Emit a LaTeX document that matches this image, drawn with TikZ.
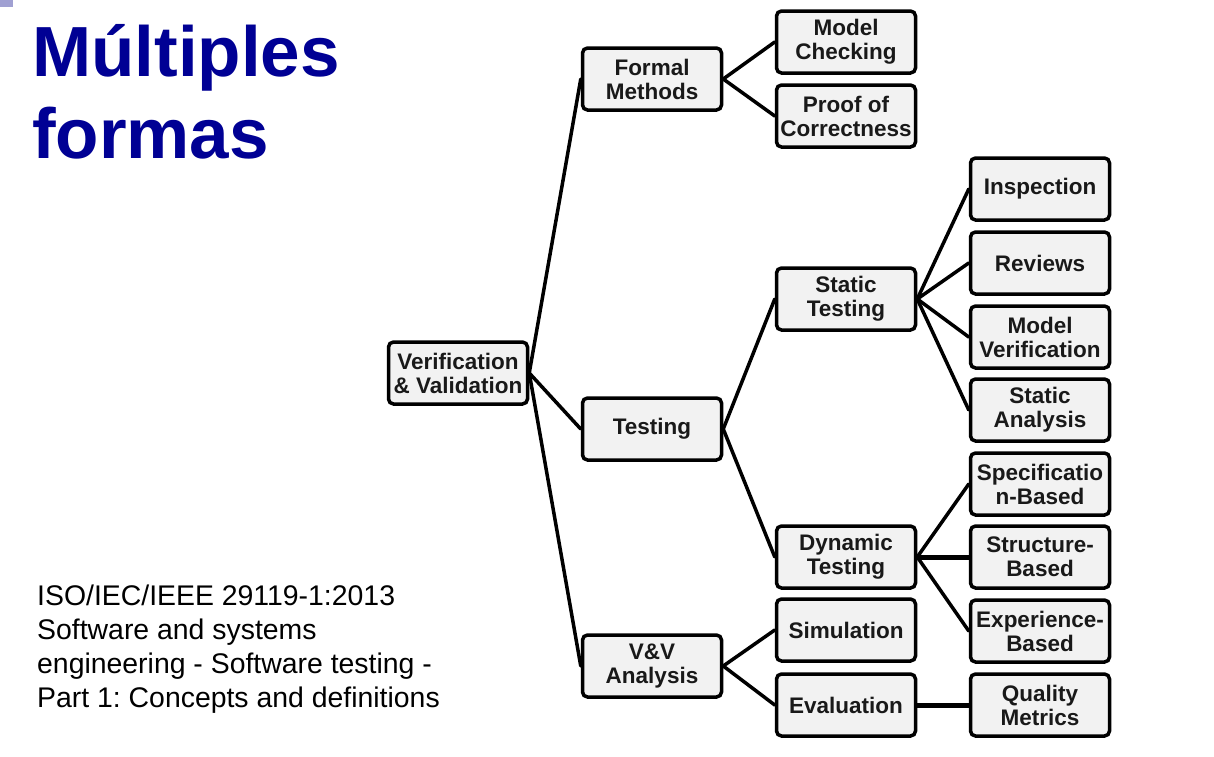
\documentclass[tikz,border=0pt]{standalone}
\usepackage{fontspec}
\setmainfont{Liberation Sans}
\frenchspacing
\definecolor{titleblue}{RGB}{0,0,148}
\definecolor{boxfill}{RGB}{242,242,242}
\definecolor{boxtext}{RGB}{25,25,25}
\definecolor{cornermark}{RGB}{160,160,210}
\begin{document}
\begin{tikzpicture}[x=1pt,y=-1pt,
  item/.style={draw=black, line width=3.5pt, fill=boxfill, rounded corners=5pt,
    minimum width=139pt, minimum height=62pt, inner sep=0pt, align=center,
    text=boxtext, font=\fontsize{22.5}{24}\selectfont\bfseries},
  link/.style={line width=3.5pt, line cap=round},
  title/.style={anchor=base west, inner sep=0pt, text=titleblue,
    font=\fontsize{71}{82}\selectfont\bfseries},
  note/.style={anchor=base west, inner sep=0pt, text=black,
    font=\fontsize{28.4}{34}\selectfont}]
\useasboundingbox[fill=white] (0,0) rectangle (1214,756);

% corner mark and title
\fill[cornermark] (0,0) rectangle (13,7);
\node[title] (t1) at (32,76) {Múltiples};
\node[title] (t2) at (32,158) {formas};

% reference note
\node[note] (n1) at (37,605) {ISO/IEC/IEEE 29119-1:2013};
\node[note] (n2) at (37,639) {Software and systems};
\node[note] (n3) at (37,673) {engineering - Software testing -};
\node[note] (n4) at (37,707) {Part 1: Concepts and definitions};

% tree nodes
\node[item] (vv) at (458,373) {Verification\\\& Validation};

\node[item] (fm) at (652,79) {Formal\\Methods};
\node[item] (te) at (652,429) {Testing};
\node[item] (va) at (652,666) {V\&V\\Analysis};

\node[item] (mc) at (846,42) {Model\\Checking};
\node[item] (pc) at (846,116) {Proof of\\Correctness};
\node[item] (st) at (846,299) {Static\\Testing};
\node[item] (dt) at (846,557) {Dynamic\\Testing};
\node[item] (si) at (846,630) {Simulation};
\node[item] (ev) at (846,705) {Evaluation};

\node[item] (in) at (1040,189) {Inspection};
\node[item] (re) at (1040,263) {Reviews};
\node[item] (mv) at (1040,337) {Model\\Verification};
\node[item] (sa) at (1040,410) {Static\\Analysis};
\node[item] (sb) at (1040,484) {Specificatio\\n-Based};
\node[item] (su) at (1040,557) {Structure-\\Based};
\node[item] (eb) at (1040,631) {Experience-\\Based};
\node[item] (qm) at (1040,705) {Quality\\Metrics};

% connectors
\draw[link] (vv.east) -- (fm.west);
\draw[link] (vv.east) -- (te.west);
\draw[link] (vv.east) -- (va.west);

\draw[link] (fm.east) -- (mc.west);
\draw[link] (fm.east) -- (pc.west);

\draw[link] (te.east) -- (st.west);
\draw[link] (te.east) -- (dt.west);

\draw[link] (va.east) -- (si.west);
\draw[link] (va.east) -- (ev.west);

\draw[link] (st.east) -- (in.west);
\draw[link] (st.east) -- (re.west);
\draw[link] (st.east) -- (mv.west);
\draw[link] (st.east) -- (sa.west);

\draw[link] (dt.east) -- (sb.west);
\draw[link, line width=5pt] (dt.east) -- (su.west);
\draw[link] (dt.east) -- (eb.west);

\draw[link, line width=5pt] (ev.east) -- (qm.west);
\end{tikzpicture}
\end{document}
